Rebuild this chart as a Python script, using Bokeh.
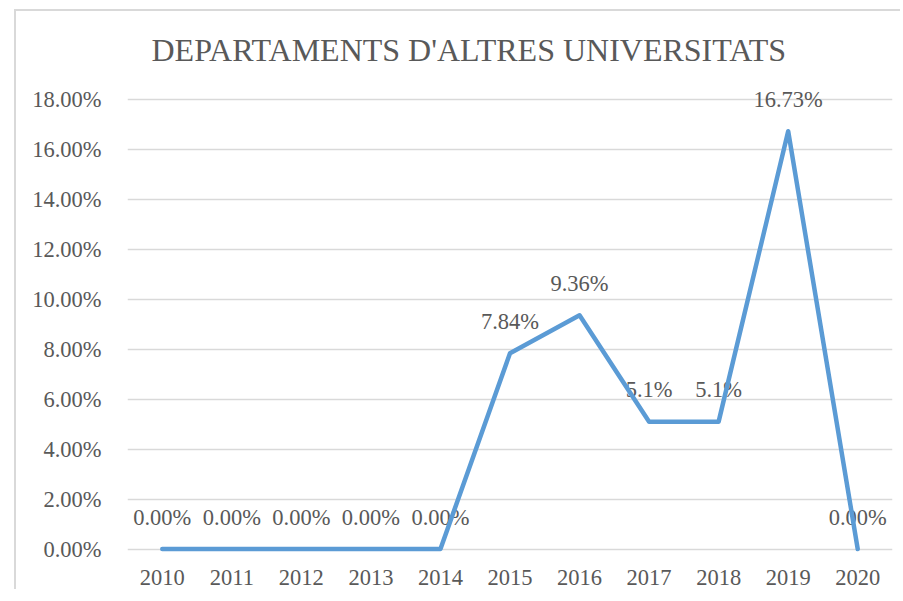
from bokeh.plotting import figure
from bokeh.models import Range1d, FactorRange, FixedTicker, PrintfTickFormatter, ColumnDataSource
from bokeh.core.properties import value
from bokeh.embed import file_html
from bokeh.resources import INLINE

title_text = "DEPARTAMENTS D'ALTRES UNIVERSITATS"
years = ["2010", "2011", "2012", "2013", "2014", "2015", "2016", "2017", "2018", "2019", "2020"]
values = [0.0, 0.0, 0.0, 0.0, 0.0, 7.84, 9.36, 5.1, 5.1, 16.73, 0.0]
labels = ["0.00%", "0.00%", "0.00%", "0.00%", "0.00%", "7.84%", "9.36%", "5.1%", "5.1%", "16.73%", "0.00%"]
y_ticks = [0, 2, 4, 6, 8, 10, 12, 14, 16, 18]

FONT = "Liberation Serif"
TXT = "#595959"
GRID = "#d9d9d9"
BLUE = "#5B9BD5"

src = ColumnDataSource(dict(x=years, y=values, t=labels))

p = figure(width=886, height=580, output_backend="svg", toolbar_location=None,
           x_range=FactorRange(*years), y_range=Range1d(-0.5, 18.76),
           min_border_left=111, min_border_right=10, min_border_top=69, min_border_bottom=30,
           styles={"border-top": "2px solid #d9d9d9", "border-left": "2px solid #d9d9d9",
                   "margin-left": "14px", "margin-top": "9px"})

p.outline_line_color = None
p.background_fill_color = "white"
p.border_fill_color = "white"

p.title.text = title_text
p.title.text_font = FONT
p.title.text_font_size = "32px"
p.title.text_font_style = "normal"
p.title.text_color = TXT
p.title.align = "left"
p.title.offset = 24
p.title.standoff = 26

# axes
p.yaxis.ticker = FixedTicker(ticks=y_ticks)
p.yaxis.formatter = PrintfTickFormatter(format="%.2f%%")
p.yaxis.axis_line_color = None
p.yaxis.major_tick_line_color = None
p.yaxis.minor_tick_line_color = None
p.yaxis.major_label_standoff = 20
p.xaxis.axis_line_color = None
p.xaxis.major_tick_line_color = None
p.xaxis.minor_tick_line_color = None
p.xaxis.major_label_standoff = 2
for ax in (p.xaxis, p.yaxis):
    ax.major_label_text_font = FONT
    ax.major_label_text_font_size = "22.5px"
    ax.major_label_text_color = TXT

p.xgrid.grid_line_color = None
p.ygrid.ticker = FixedTicker(ticks=y_ticks)
p.ygrid.grid_line_color = GRID
p.ygrid.grid_line_width = 1.5

p.text(x="x", y="y", text="t", source=src, text_font=value(FONT), text_font_size="22.5px",
       text_color=TXT, text_align="center", text_baseline="alphabetic", y_offset=-32)
p.line(x="x", y="y", source=src, line_color=BLUE, line_width=4.5, line_cap="round", line_join="round")

open("out.html", "w").write(file_html(p, INLINE))
